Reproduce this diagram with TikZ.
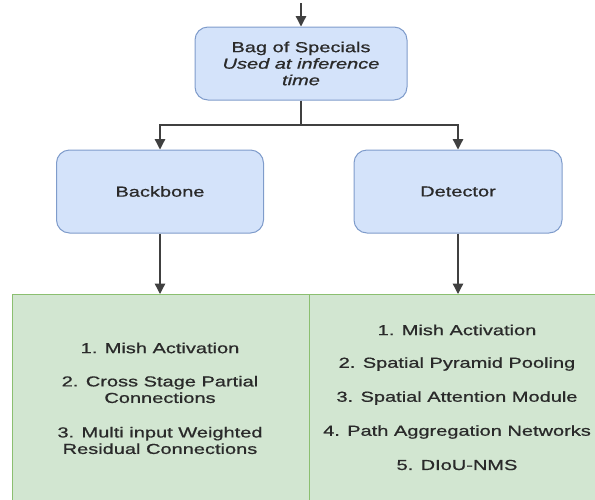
\documentclass[tikz,border=0pt]{standalone}
\usepackage{fontspec}
\usepackage{graphicx}
\setmainfont[FakeBold=0.7]{Liberation Sans}
\usetikzlibrary{arrows.meta}
\newcommand{\sx}[1]{\scalebox{1.38}[1]{#1}}
\definecolor{bluefill}{HTML}{D4E3FA}
\definecolor{blueline}{HTML}{7F9CCB}
\definecolor{greenfill}{HTML}{D2E6D1}
\definecolor{greenline}{HTML}{8BBF70}
\definecolor{txt}{HTML}{2A2A2A}
\begin{document}
\begin{tikzpicture}[x=1pt,y=-1pt,
  bluebox/.style={draw=blueline, fill=bluefill, rounded corners=13pt, line width=1pt},
  greenbox/.style={draw=greenline, fill=greenfill, line width=1.4pt},
  lbl/.style={font=\fontsize{14.5}{16.5}\selectfont, align=center, text=txt, inner sep=0pt},
  conn/.style={draw=black!75, line width=1.3pt},
  arr/.style={conn, -{Triangle[length=10.5pt,width=10.5pt]}}]
\useasboundingbox (0,0) rectangle (595,499);
% boxes
\node[bluebox, minimum width=212pt, minimum height=73pt] (bag) at (301,63.5) {};
\node[bluebox, minimum width=207pt, minimum height=83pt] (bb) at (160,191.5) {};
\node[bluebox, minimum width=208pt, minimum height=83pt] (det) at (458,191.5) {};
\node[greenbox, anchor=north west, minimum width=297pt, minimum height=230pt] (gl) at (12,294) {};
\node[greenbox, anchor=north west, minimum width=300pt, minimum height=230pt] (gr) at (309,294) {};
% labels
\node[lbl] (bagt) at (bag.center) {\sx{Bag of Specials}\\\sx{\itshape Used at inference}\\\sx{\itshape time}};
\node[lbl] (bbt) at (bb.center) {\sx{Backbone}};
\node[lbl] (dett) at (det.center) {\sx{Detector}};
\node[lbl] (l1) at (160,348) {\sx{1. Mish Activation}};
\node[lbl] (l2) at (160,389.5) {\sx{2. Cross Stage Partial}\\\sx{Connections}};
\node[lbl] (l3) at (160,440.5) {\sx{3. Multi input Weighted}\\\sx{Residual Connections}};
\node[lbl] (r1) at (457,330) {\sx{1. Mish Activation}};
\node[lbl] (r2) at (457,364) {\sx{2. Spatial Pyramid Pooling}};
\node[lbl] (r3) at (457,398) {\sx{3. Spatial Attention Module}};
\node[lbl] (r4) at (457,432) {\sx{4. Path Aggregation Networks}};
\node[lbl] (r5) at (457,465) {\sx{5. DIoU-NMS}};
% connectors
\coordinate (top) at (301,3);
\coordinate (split) at (301,125);
\draw[arr] (top) -- (bag.north);
\draw[conn] (bag.south) -- (split);
\draw[arr] (split) -| (bb.north);
\draw[arr] (split) -| (det.north);
\draw[arr] (bb.south) -- (bb.south |- gl.north);
\draw[arr] (det.south) -- (det.south |- gr.north);
\end{tikzpicture}
\end{document}
